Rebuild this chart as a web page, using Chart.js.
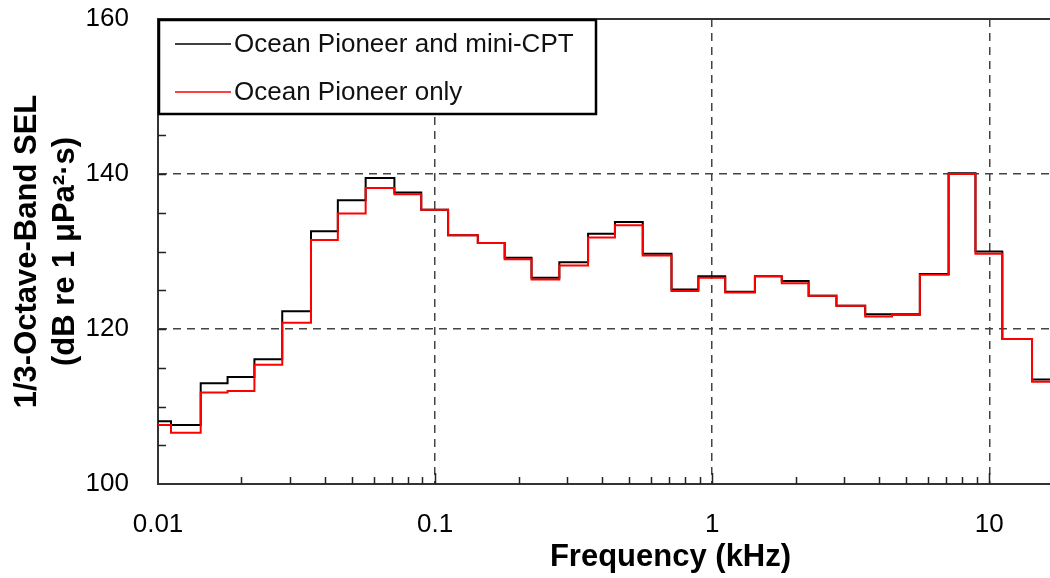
<!DOCTYPE html>
<html>
<head>
<meta charset="utf-8">
<script src="https://cdn.jsdelivr.net/npm/chart.js@4"></script>
<style>
  html, body { margin: 0; padding: 0; background: #fff; overflow: hidden; }
  #wrap { width: 1050px; height: 578px; overflow: hidden; }
</style>
</head>
<body>
<div id="wrap">
  <canvas id="sel" width="1200" height="578"></canvas>
</div>
<script>
// 1/3-octave band centre frequencies (kHz)
const bandCenters = [0.01, 0.0125, 0.016, 0.02, 0.025, 0.0315, 0.04, 0.05, 0.063, 0.08,
  0.1, 0.125, 0.16, 0.2, 0.25, 0.315, 0.4, 0.5, 0.63, 0.8,
  1, 1.25, 1.6, 2, 2.5, 3.15, 4, 5, 6.3, 8,
  10, 12.5, 16];

// band SEL, dB re 1 µPa²·s
const pioneerCptSel = [108.1, 107.6, 113.0, 113.8, 116.1, 122.3, 132.6, 136.6, 139.5, 137.6,
  135.4, 132.1, 131.1, 129.2, 126.6, 128.6, 132.3, 133.8, 129.7, 125.1,
  126.8, 124.8, 126.8, 126.2, 124.3, 123.0, 121.9, 121.9, 127.1, 140.1,
  130.0, 118.7, 113.5];
const pioneerOnlySel = [107.6, 106.6, 111.8, 112.0, 115.4, 120.8, 131.5, 134.9, 138.2, 137.4,
  135.4, 132.1, 131.1, 129.0, 126.4, 128.2, 131.8, 133.4, 129.5, 124.9,
  126.6, 124.7, 126.8, 125.9, 124.3, 123.0, 121.6, 121.8, 127.0, 140.0,
  129.7, 118.7, 113.2];

const yTicks = [100, 120, 140, 160];
const xTickLabels = ['0.01', '0.1', '1', '10'];

// each band is a flat step from its lower to its upper edge
const halfBand = Math.pow(10, 0.05);
function steps(values) {
  const pts = bandCenters.map((f, i) => ({ x: f / halfBand, y: values[i] }));
  const last = bandCenters.length - 1;
  pts.push({ x: bandCenters[last] * halfBand, y: values[last] });
  return pts;
}

function isDecade(v) {
  const l = Math.log10(v);
  return Math.abs(l - Math.round(l)) < 1e-6;
}

const FONT = '"Liberation Sans", Arial, sans-serif';

// inward tick marks, plot frame and boxed legend (drawn inside the plot like the original)
const framePlugin = {
  id: 'frame',
  afterDatasetsDraw(chart) {
    const ctx = chart.ctx;
    const a = chart.chartArea;
    const xs = chart.scales.x;
    const ys = chart.scales.y;
    ctx.save();
    ctx.strokeStyle = '#222';
    ctx.lineWidth = 1.5;
    ctx.beginPath();
    xs.ticks.forEach(t => {
      const px = Math.round(xs.getPixelForValue(t.value)) + 0.5;
      if (px <= a.left + 1) return;
      const len = isDecade(t.value) ? 11 : 7;
      ctx.moveTo(px, a.bottom);
      ctx.lineTo(px, a.bottom - len);
    });
    ys.ticks.forEach(t => {
      const py = Math.round(ys.getPixelForValue(t.value)) + 0.5;
      if (t.value === ys.min || t.value === ys.max) return;
      ctx.moveTo(a.left, py);
      ctx.lineTo(a.left + 8, py);
    });
    ctx.stroke();

    // top and right edges of the frame
    ctx.strokeStyle = '#333';
    ctx.lineWidth = 2;
    ctx.beginPath();
    ctx.moveTo(a.left, a.top);
    ctx.lineTo(a.right, a.top);
    ctx.lineTo(a.right, a.bottom);
    ctx.stroke();

    // legend box
    const lx = a.left, ly = a.top, lw = 439, lh = 96;
    ctx.fillStyle = '#fff';
    ctx.fillRect(lx, ly, lw, lh);
    ctx.strokeStyle = '#000';
    ctx.lineWidth = 2.5;
    ctx.strokeRect(lx + 1, ly + 1, lw - 2, lh - 2);
    ctx.font = '26px ' + FONT;
    ctx.textBaseline = 'middle';
    ctx.fillStyle = '#111';
    chart.data.datasets.forEach((ds, i) => {
      const cy = ly + 25 + i * 48;
      ctx.strokeStyle = ds.borderColor;
      ctx.lineWidth = 1.5;
      ctx.beginPath();
      ctx.moveTo(lx + 17, cy);
      ctx.lineTo(lx + 73, cy);
      ctx.stroke();
      ctx.fillText(ds.label, lx + 76, cy + 1);
    });
    ctx.restore();
  }
};

new Chart(document.getElementById('sel'), {
  type: 'line',
  data: {
    datasets: [
      {
        label: 'Ocean Pioneer and mini-CPT',
        data: steps(pioneerCptSel),
        borderColor: '#000',
        borderWidth: 2,
        stepped: 'before',
        pointRadius: 0,
        order: 1,
      },
      {
        label: 'Ocean Pioneer only',
        data: steps(pioneerOnlySel),
        borderColor: '#ff0000',
        borderWidth: 2,
        stepped: 'before',
        pointRadius: 0,
        order: 0,
      },
    ],
  },
  options: {
    responsive: false,
    animation: false,
    layout: { padding: { top: 19, left: 0, right: 17, bottom: 0 } },
    plugins: {
      legend: { display: false },
      tooltip: { enabled: false },
    },
    scales: {
      x: {
        type: 'logarithmic',
        min: 0.01,
        max: 50,
        afterFit: s => { s.height = 94; s.paddingLeft = 0; s.paddingRight = 0; },
        afterBuildTicks: s => {
          const t = [];
          [0.01, 0.1, 1, 10].forEach(d => {
            for (let k = 1; k <= 9; k++) {
              const v = parseFloat((d * k).toPrecision(6));
              if (v <= 50) t.push({ value: v });
            }
          });
          s.ticks = t;
        },
        ticks: {
          autoSkip: false,
          maxRotation: 0,
          padding: 25,
          color: '#000',
          font: { family: FONT, size: 26 },
          callback: v => {
            if (!isDecade(v)) return '';
            return xTickLabels[Math.round(Math.log10(v)) + 2] || '';
          },
        },
        grid: {
          drawTicks: false,
          lineWidth: 1.5,
          color: c => (c.tick && isDecade(c.tick.value) && c.tick.value > 0.011) ? '#444' : 'rgba(0,0,0,0)',
        },
        border: { display: true, color: '#333', width: 2, dash: [8, 6] },
        title: {
          display: true,
          text: 'Frequency (kHz)',
          color: '#000',
          font: { family: FONT, size: 31, weight: 'bold', lineHeight: 1.2 },
          padding: { top: 0, bottom: 2 },
        },
      },
      y: {
        min: 100,
        max: 160,
        afterFit: s => { s.width = 158; s.paddingTop = 0; s.paddingBottom = 0; },
        ticks: {
          stepSize: 5,
          padding: 29,
          color: '#000',
          font: { family: FONT, size: 26 },
          callback: v => yTicks.includes(v) ? String(v) : '',
        },
        grid: {
          drawTicks: false,
          lineWidth: 1.5,
          color: c => (c.tick && (c.tick.value === 120 || c.tick.value === 140)) ? '#444' : 'rgba(0,0,0,0)',
        },
        border: { display: true, color: '#333', width: 2, dash: [8, 6] },
        title: {
          display: true,
          text: ['1/3-Octave-Band SEL', '(dB re 1 μPa²·s)'],
          color: '#000',
          font: { family: FONT, size: 31, weight: 'bold', lineHeight: 1.23 },
          padding: { top: 8, bottom: 0 },
        },
      },
    },
  },
  plugins: [framePlugin],
});
</script>
</body>
</html>
